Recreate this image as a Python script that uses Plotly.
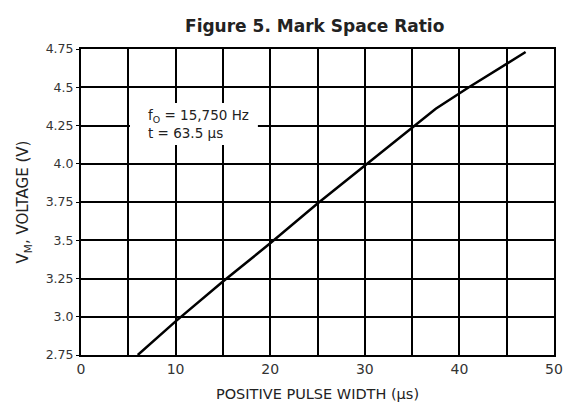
import plotly.graph_objects as go

pulse_width_us = [6, 10, 15, 20, 25, 30, 35, 37.5, 41, 47]
voltage_v = [2.75, 2.97, 3.23, 3.48, 3.74, 3.99, 4.24, 4.36, 4.5, 4.73]

y_tick_vals = [2.75, 3.0, 3.25, 3.5, 3.75, 4.0, 4.25, 4.5, 4.75]
y_tick_text = ["2.75", "3.0", "3.25", "3.5", "3.75", "4.0", "4.25", "4.5", "4.75"]

title_text = "Figure 5. Mark Space Ratio"
x_title = "POSITIVE PULSE WIDTH (µs)"
y_title = "V<sub>M</sub>, VOLTAGE (V)"
note_text = "f<sub>O</sub> = 15,750 Hz<br>t = 63.5 µs"

FONT = "DejaVu Sans, Liberation Sans, Arial, sans-serif"

fig = go.Figure()
fig.add_trace(go.Scatter(
    x=pulse_width_us, y=voltage_v, mode="lines",
    line=dict(color="black", width=2.5), showlegend=False,
))

# white background box of the note (covers grid lines)
fig.add_shape(type="rect", xref="x", yref="y", x0=5.18, x1=18.7, y0=4.123, y1=4.397,
              fillcolor="white", line=dict(width=0), layer="above")
fig.add_annotation(
    x=6.9, y=4.262, xref="x", yref="y", xanchor="left", yanchor="middle",
    text=note_text, showarrow=False, align="left",
    font=dict(family=FONT, size=13.5, color="#222"),
)

fig.update_layout(
    width=566, height=403,
    margin=dict(l=81, r=12, t=49, b=48),
    paper_bgcolor="white", plot_bgcolor="white",
    title=dict(text="<b>" + title_text + "</b>", x=0.556, xanchor="center",
               y=0.935, yanchor="middle",
               font=dict(family=FONT, size=17, color="#222")),
    font=dict(family=FONT, size=12, color="#333"),
)
fig.update_xaxes(
    range=[0, 50], tick0=0, dtick=10,
    minor=dict(dtick=5, showgrid=True, gridcolor="black", gridwidth=1.5, ticks=""),
    showgrid=True, gridcolor="black", gridwidth=1.5,
    showline=True, linecolor="black", linewidth=2, mirror=True,
    ticks="", zeroline=False, automargin=False,
    tickfont=dict(family=FONT, size=14, color="#333"),
    title=dict(text=x_title, font=dict(family=FONT, size=14.5, color="#222"), standoff=13),
)
fig.update_yaxes(
    range=[2.75, 4.75], tickvals=y_tick_vals, ticktext=y_tick_text,
    showgrid=True, gridcolor="black", gridwidth=1.5,
    showline=True, linecolor="black", linewidth=2, mirror=True,
    ticks="outside", ticklen=3, tickcolor="black", zeroline=False, automargin=False,
    tickfont=dict(family=FONT, size=12.5, color="#333"),
    title=dict(text=y_title, font=dict(family=FONT, size=15, color="#222"), standoff=13),
)

fig.write_html("out.html", config={"displayModeBar": False},
               post_script="document.body.style.margin='0';document.body.style.overflow='hidden';")
